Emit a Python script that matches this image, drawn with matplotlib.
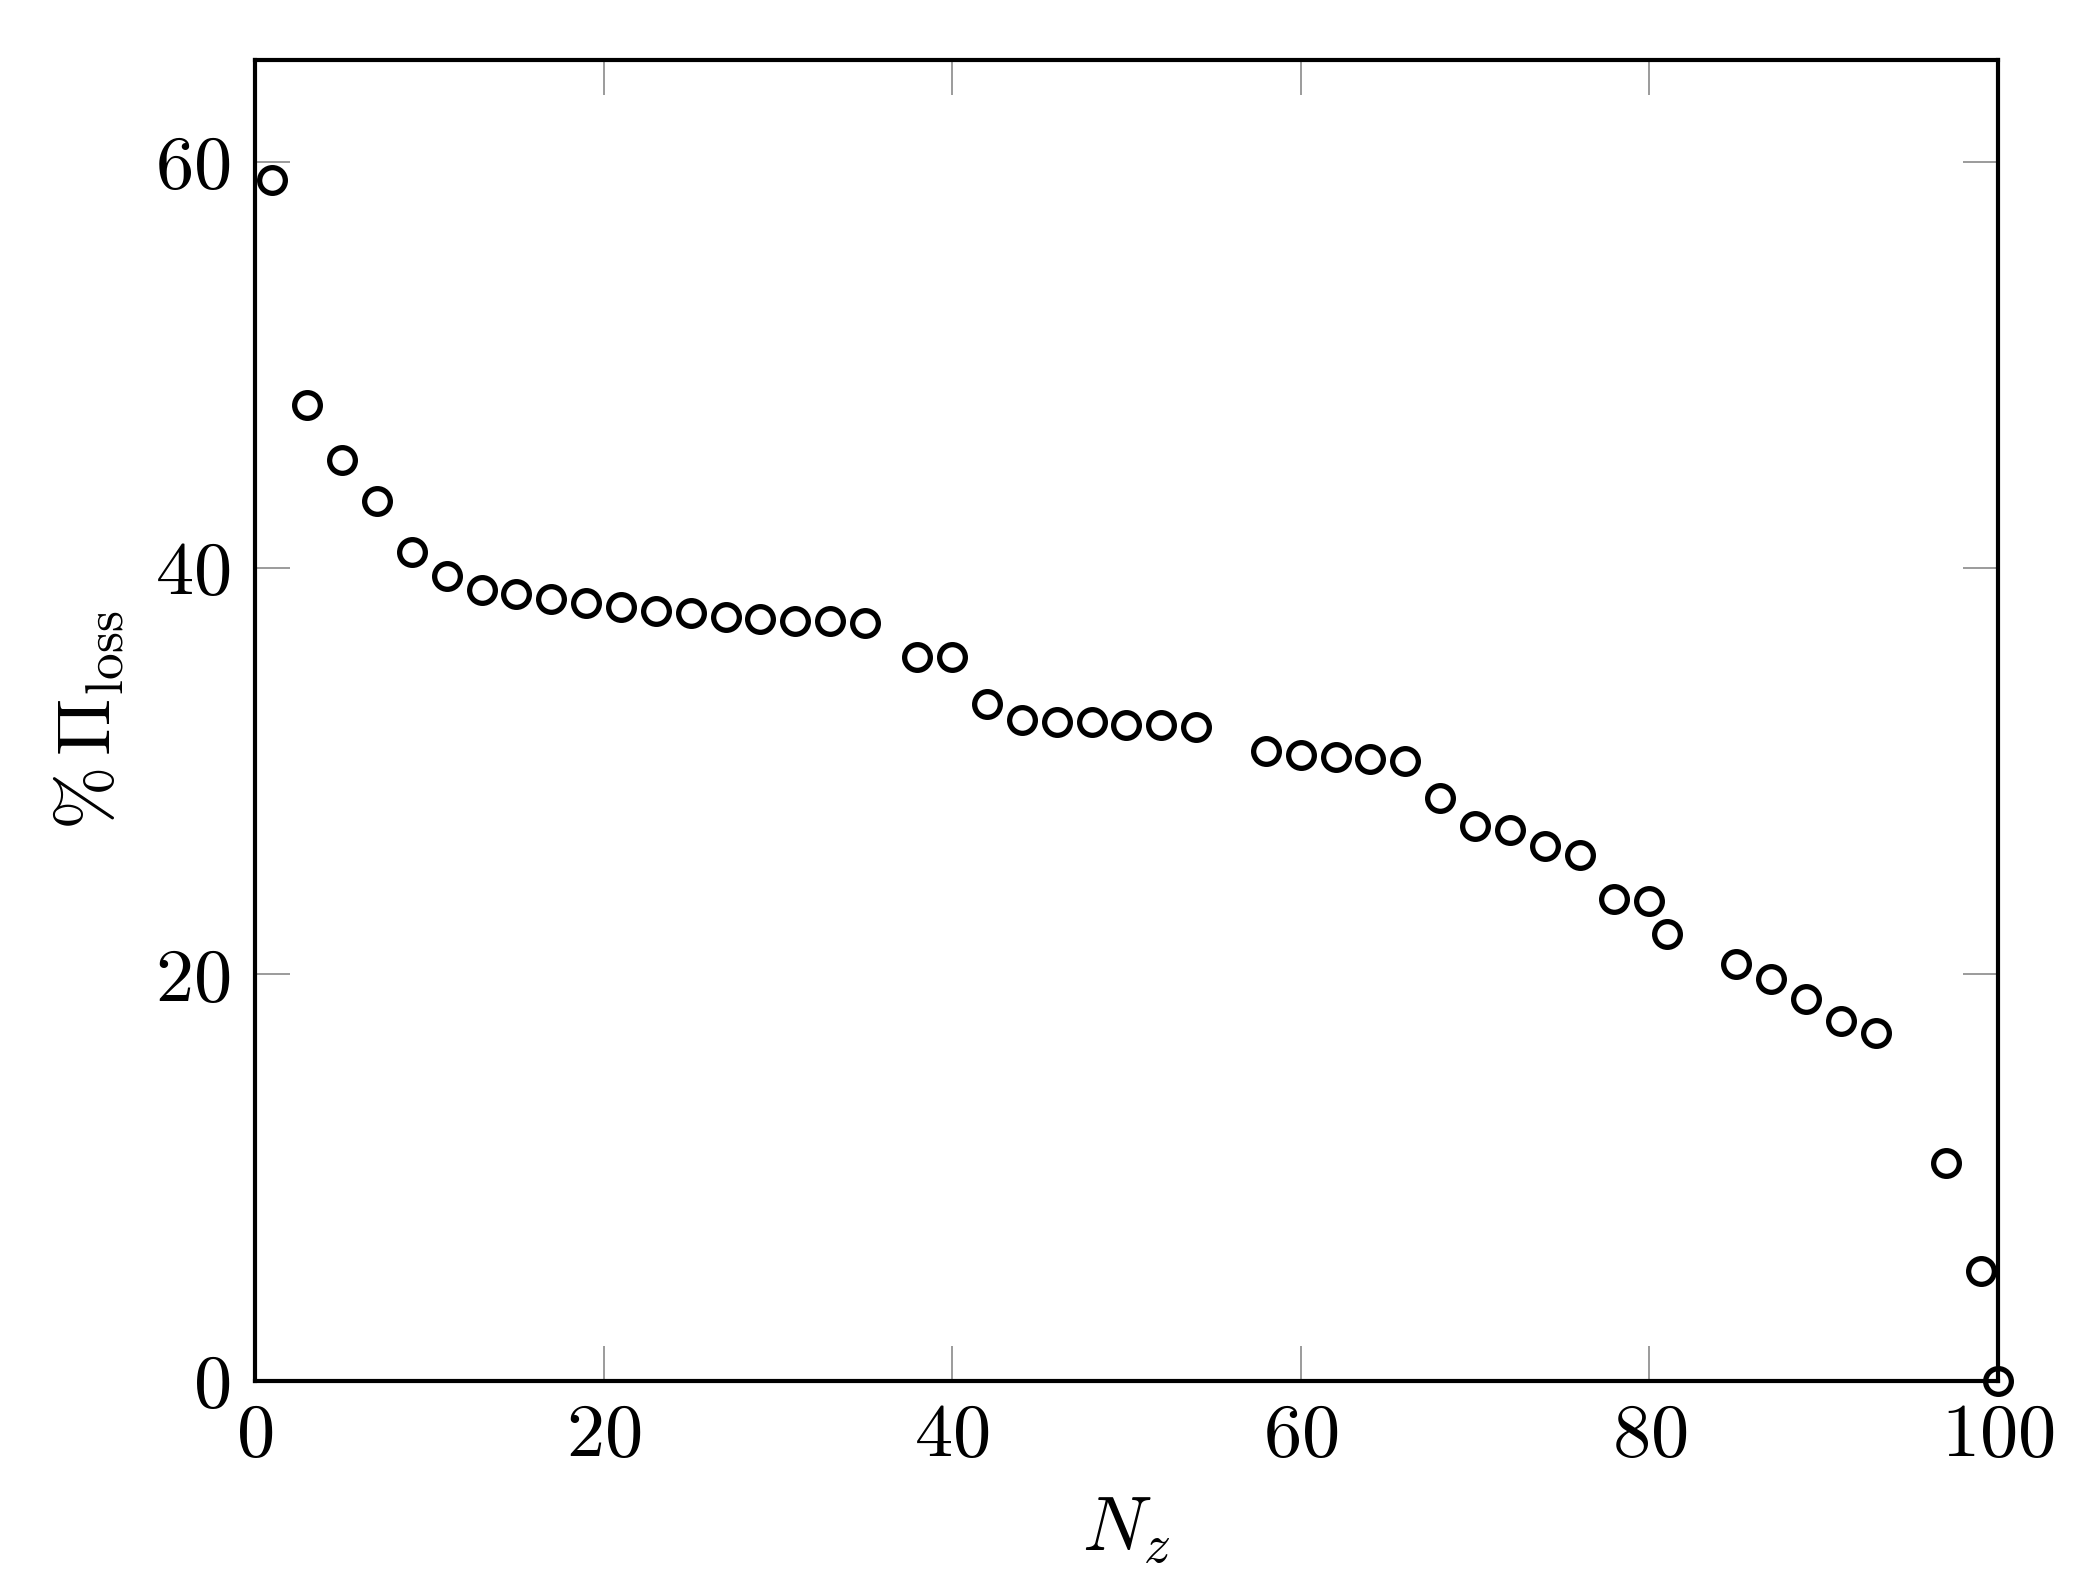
import numpy as np
import matplotlib
matplotlib.use("Agg")
import matplotlib.pyplot as plt
from matplotlib.ticker import FuncFormatter

# data
Nz = [1, 3, 5, 7, 9, 11, 13, 15, 17, 19, 21, 23, 25, 27, 29, 31, 33, 35,
      38, 40, 42, 44, 46, 48, 50, 52, 54, 58, 60, 62, 64, 66, 68, 70, 72,
      74, 76, 78, 80, 81, 85, 87, 89, 91, 93, 97, 99, 100]
loss = [59.1, 48.0, 45.3, 43.3, 40.8, 39.6, 38.9, 38.7, 38.5, 38.3, 38.1,
        37.9, 37.8, 37.6, 37.5, 37.4, 37.4, 37.3, 35.6, 35.6, 33.3, 32.5,
        32.4, 32.4, 32.3, 32.3, 32.2, 31.0, 30.8, 30.7, 30.6, 30.5, 28.7,
        27.3, 27.1, 26.3, 25.9, 23.7, 23.6, 22.0, 20.5, 19.8, 18.8, 17.7,
        17.1, 10.7, 5.4, 0.0]

xticks = [0, 20, 40, 60, 80, 100]
yticks = [0, 20, 40, 60]

plt.rcParams['mathtext.fontset'] = 'cm'
plt.rcParams['font.family'] = 'serif'
plt.rcParams['font.serif'] = ['cmr10', 'DejaVu Serif']
plt.rcParams['axes.formatter.use_mathtext'] = True

fig = plt.figure(figsize=(21, 15.82), dpi=100)
ax = fig.add_axes([0.1214, 0.1271, 0.830, 0.835])

ax.plot(Nz, loss, 'o', mfc='none', mec='black', ms=18.5, mew=3.8,
        clip_on=False, zorder=5)

ax.set_xlim(0, 100)
ax.set_ylim(0, 65)
ax.set_xticks(xticks)
ax.set_yticks(yticks)
fmt = FuncFormatter(lambda v, p: r'$%d$' % v)
ax.xaxis.set_major_formatter(fmt)
ax.yaxis.set_major_formatter(fmt)
ax.tick_params(direction='in', top=True, right=True, length=25, width=1.1,
               color='#808080', labelsize=55)
ax.tick_params(axis='x', pad=16)
ax.tick_params(axis='y', pad=18)

for s in ax.spines.values():
    s.set_linewidth(3.0)

ax.set_xlabel(r'$N_z$', fontsize=55, labelpad=18)
ax.set_ylabel(r'$\%\,\Pi_{\mathrm{loss}}$', fontsize=55, labelpad=20)

fig.savefig('out.png', dpi=100)
